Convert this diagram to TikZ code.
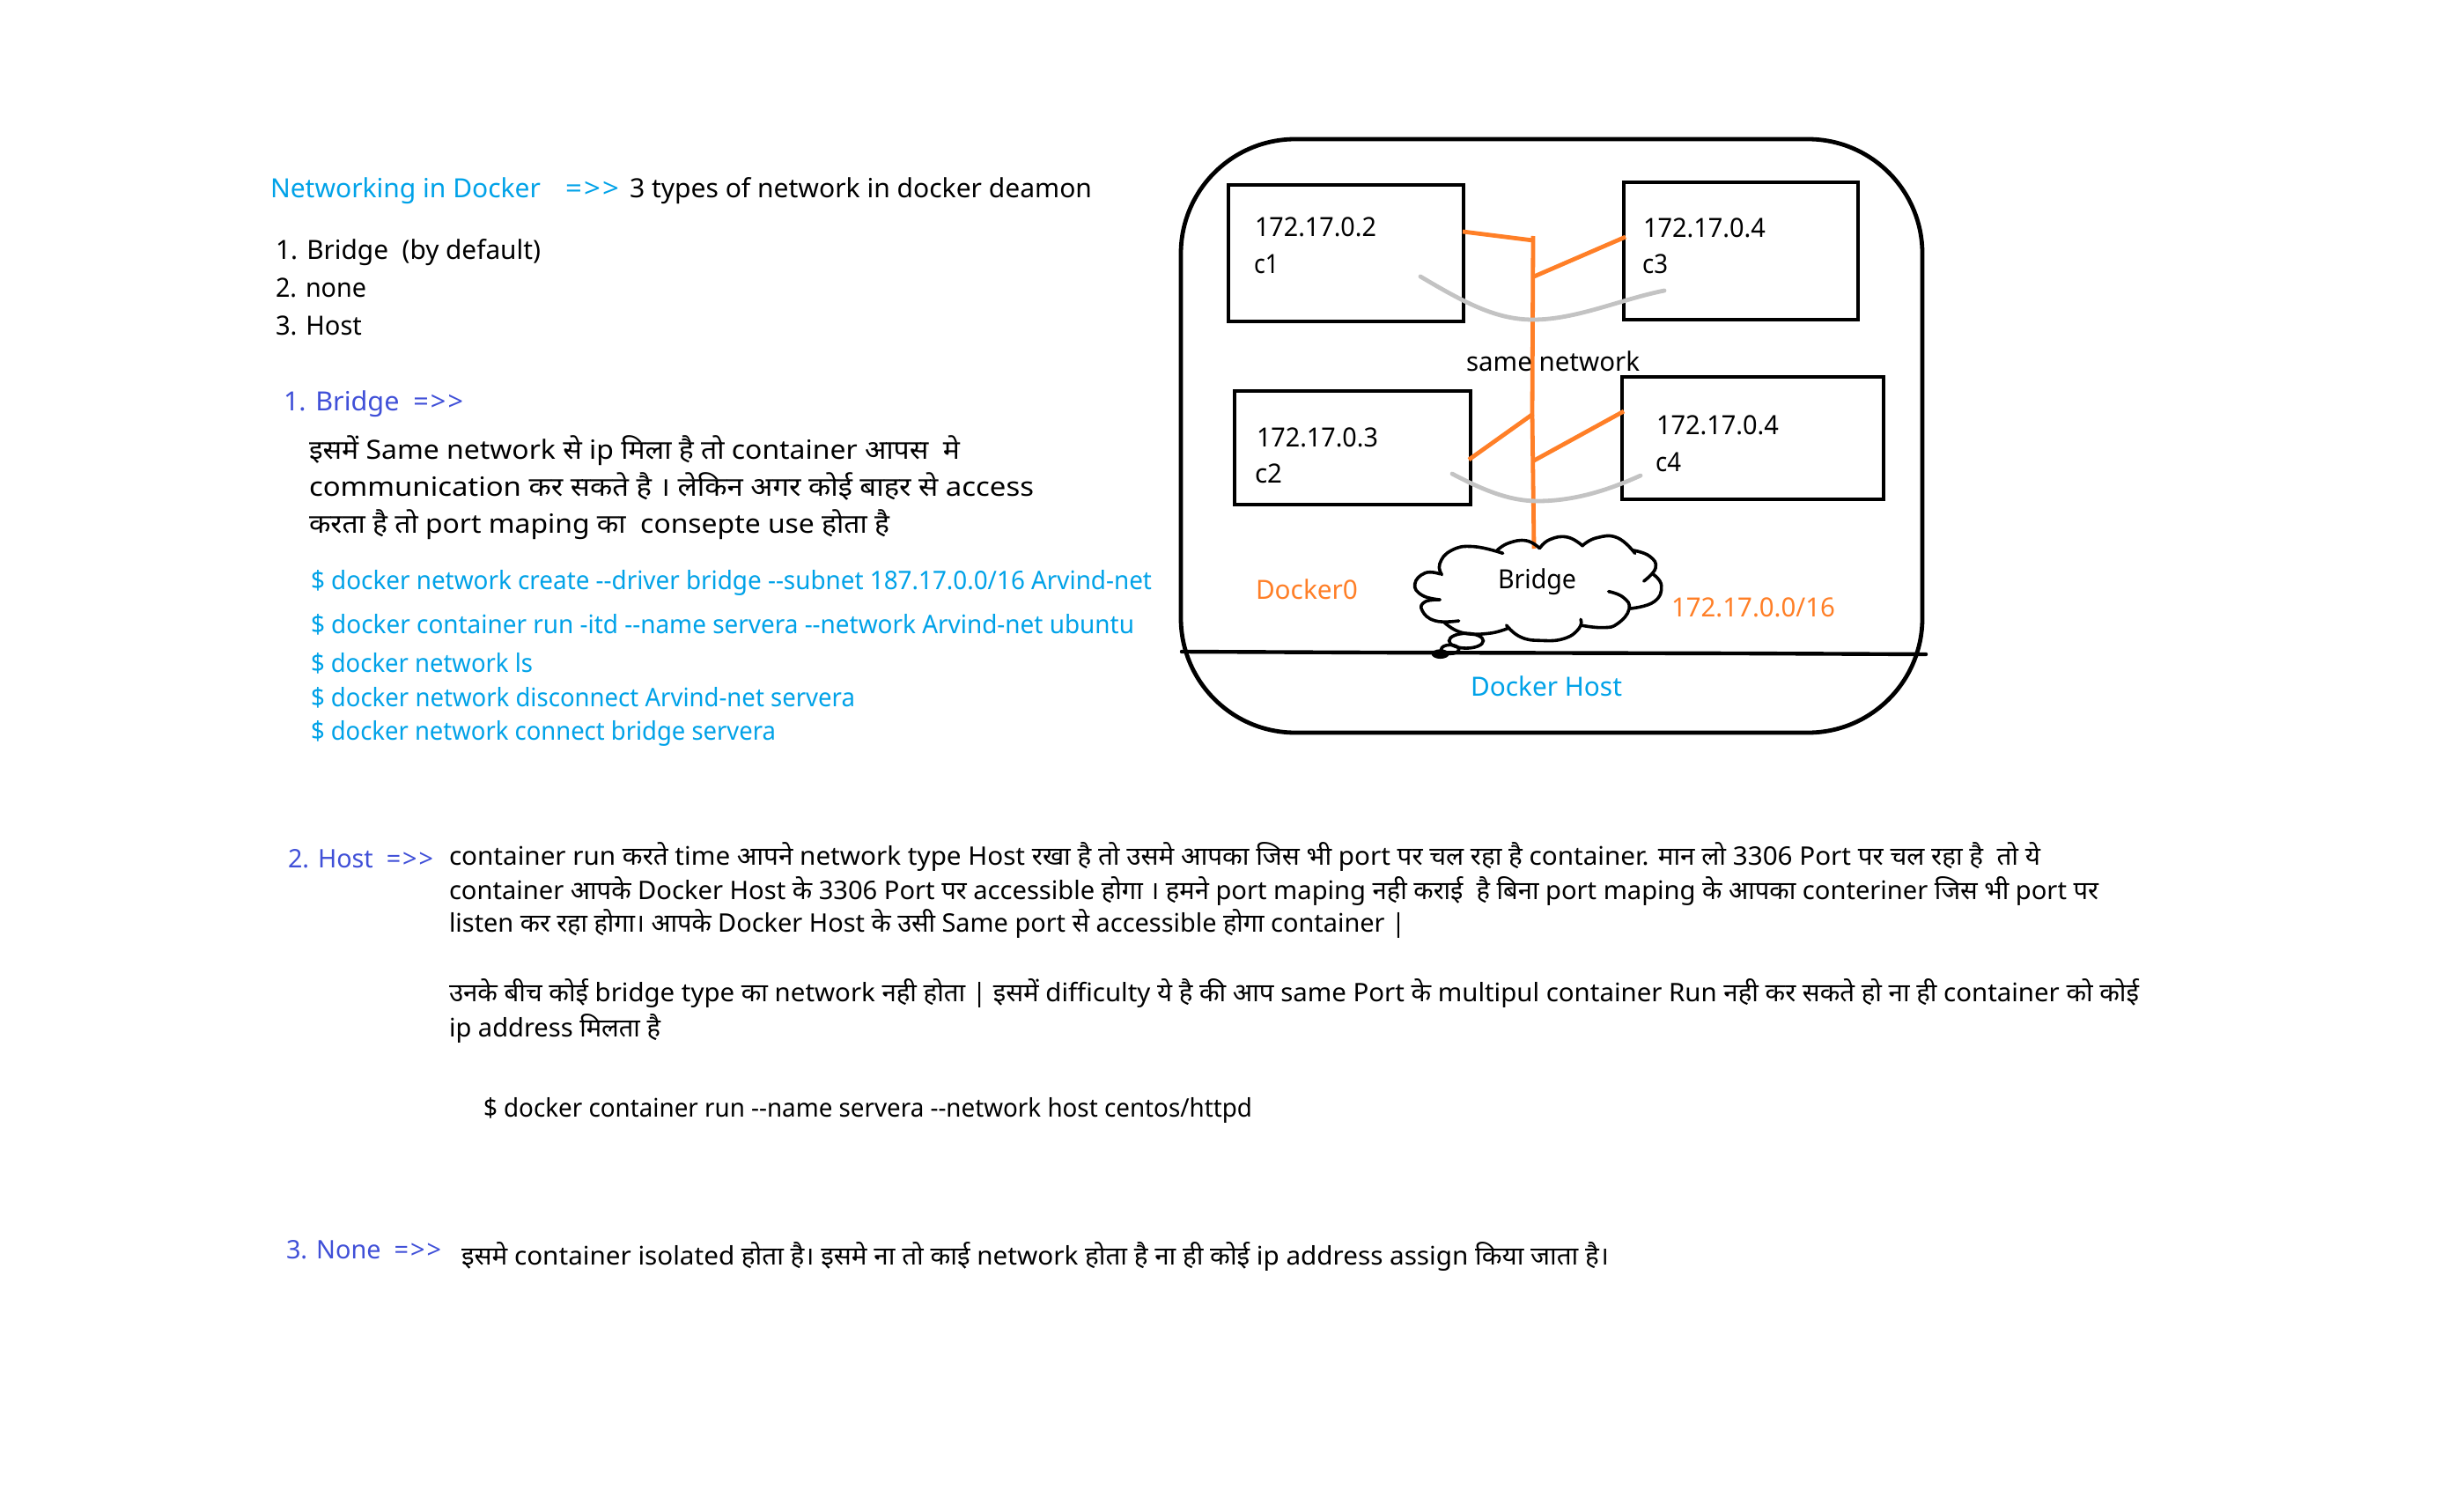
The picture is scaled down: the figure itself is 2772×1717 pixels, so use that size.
\documentclass[tikz,border=0pt]{standalone}
\usepackage{fontspec}
\usepackage{graphicx}
\newfontfamily\hfont[Script=Devanagari]{Noto Sans}
\definecolor{cy}{HTML}{00A2E8}
\definecolor{vi}{HTML}{4050D8}
\definecolor{og}{HTML}{FF7F27}
\definecolor{gy}{HTML}{C3C3C3}
\newdimen\pxu \pxu=0.5pt
\newcommand{\arr}{=\kern1pt>\kern1pt>}
\newcommand{\tl}[7][15]{\node[txt,text=#6] (#2) at (#3,#4) {\fontsize{#1}{#1}\hfont\resizebox{#5\pxu}{\height}{#7}};}
\newcommand{\bx}[5]{\pgfmathsetmacro{\cxx}{(#2+#4)/2}\pgfmathsetmacro{\cyy}{(#3+#5)/2}\pgfmathsetmacro{\wdd}{(#4-#2)/2}\pgfmathsetmacro{\htt}{(#5-#3)/2}
\node[hbox,minimum width=\wdd pt,minimum height=\htt pt] (#1) at (\cxx,\cyy) {};}
\tikzset{
 txt/.style={anchor=base west,inner sep=0pt,outer sep=0pt},
 hbox/.style={draw=black,line width=2.4pt,inner sep=0pt,outer sep=0pt,rectangle},
 oline/.style={draw=og,line width=2.4pt},
 gline/.style={draw=gy,line width=2.4pt,line cap=round},
 kline/.style={draw=black,line width=2.2pt,line cap=round},
 cl/.style={draw=black,line width=1.8pt,line cap=round}
}
\begin{document}
\begin{tikzpicture}[x=0.5pt,y=-0.5pt]
\useasboundingbox[fill=white] (0,0) rectangle (2772,1717);
% left text
\tl{t1}{307}{225}{307}{cy}{Networking in Docker}
\tl{t2}{642}{225}{61}{cy}{\arr}
\tl{t3}{715}{225}{525}{black}{3 types of network in docker deamon}
\tl{l1}{313}{295}{301}{black}{1. Bridge\ \ (by default)}
\tl{l2}{313}{337}{103}{black}{2. none}
\tl{l3}{313}{380}{98}{black}{3. Host}
\tl{b0}{322}{466}{204}{vi}{1. Bridge\ \ \arr}
\tl{b1}{351}{521}{739}{black}{इसमें Same network से ip मिला है तो container आपस\ \ मे}
\tl{b2}{351}{563}{823}{black}{communication कर सकते है । लेकिन अगर कोई बाहर से access}
\tl{b3}{351}{605.5}{659}{black}{करता है तो port maping का\ \ consepte use होता है}
\tl[14.5]{c1t}{353}{669}{955}{cy}{\$ docker network create --driver bridge --subnet 187.17.0.0/16 Arvind-net}
\tl[14.5]{c2t}{353}{719}{935}{cy}{\$ docker container run -itd --name servera --network Arvind-net ubuntu}
\tl[14.5]{c3t}{353}{763}{252}{cy}{\$ docker network ls}
\tl[14.5]{c4t}{353}{802}{618}{cy}{\$ docker network disconnect Arvind-net servera}
\tl[14.5]{c5t}{353}{840}{528}{cy}{\$ docker network connect bridge servera}
% bottom text
\tl[14.5]{h0}{327}{985}{165}{vi}{2. Host\ \ \arr}
\tl[14.5]{h1}{510}{982}{1807}{black}{container run करते time आपने network type Host रखा है तो उसमे आपका जिस भी port पर चल रहा है container. मान लो 3306 Port पर चल रहा है\ \ तो ये}
\tl[14.5]{h2}{510}{1021}{1873}{black}{container आपके Docker Host के 3306 Port पर accessible होगा । हमने port maping नही कराई\ \ है बिना port maping के आपका conteriner जिस भी port पर}
\tl[14.5]{h3}{510}{1058.5}{1086}{black}{listen कर रहा होगा। आपके Docker Host के उसी Same port से accessible होगा container |}
\tl[14.5]{h4}{510}{1137}{1919}{black}{उनके बीच कोई bridge type का network नही होता | इसमें difficulty ये है की आप same Port के multipul container Run नही कर सकते हो ना ही container को कोई}
\tl[14.5]{h5}{510}{1177}{240}{black}{ip address मिलता है}
\tl[14.5]{h6}{549}{1268}{873}{black}{\$ docker container run --name servera --network host centos/httpd}
\tl[14.5]{n0}{325}{1429}{176}{vi}{3. None\ \ \arr}
\tl[14.5]{n1}{524}{1436}{1303}{black}{इसमे container isolated होता है। इसमे ना तो काई network होता है ना ही कोई ip address assign किया जाता है।}
% diagram
\bx{c1}{1395}{210}{1662}{365}
\bx{c3}{1844}{207}{2110}{363}
\bx{c2}{1402}{444}{1670}{573}
\bx{c4}{1842}{428}{2139}{567}
\node[hbox,rounded corners=65pt,minimum width=421pt,minimum height=337pt] (host) at (1762,495) {};
\coordinate (lineL) at (1342,740);
\coordinate (lineA) at (1556,741);
\coordinate (lineB) at (1977,742);
\coordinate (lineR) at (2187,743);
\draw[kline] (lineL) -- (lineA) -- (lineB) -- (lineR);
% bus
\coordinate (busT) at (1741,268);
\coordinate (busM) at (1740,470);
\coordinate (busB) at (1742,623);
\coordinate (j1) at (1741,273);
\coordinate (j3) at (1742,314);
\coordinate (j2) at (1741,470);
\coordinate (j4) at (1742,523);
\coordinate (p1) at (1661,263);
\coordinate (p3) at (1846,269);
\coordinate (p2) at (1668,522);
\coordinate (p4) at (1844,467);
\draw[oline] (busT) -- (busM) -- (busB);
\draw[oline] (p1) -- (j1);
\draw[oline] (p3) -- (j3);
\draw[oline] (p2) -- (j2);
\draw[oline] (p4) -- (j4);
% grey
\coordinate (g1) at (1613,314);
\coordinate (g2) at (1741,363);
\coordinate (g3) at (1890,330);
\coordinate (g4) at (1649,538);
\coordinate (g5) at (1746,569);
\coordinate (g6) at (1863,540);
\draw[gline] (g1) .. controls (1665,345) and (1700,363) .. (g2) .. controls (1790,363) and (1840,340) .. (g3);
\draw[gline] (g4) .. controls (1685,557) and (1715,569) .. (g5) .. controls (1790,569) and (1830,555) .. (g6);
% cloud
\begin{scope}[shift={(1590,590)},x=0.16667pt,y=-0.16667pt]
\draw[cl] plot[smooth,tension=0.8] coordinates {(135,185)(85,182)(50,220)(75,258)(135,273)};
\draw[cl] plot[smooth,tension=0.8] coordinates {(142,188)(135,150)(175,105)(250,92)(350,115)};
\draw[cl] plot[smooth,tension=0.8] coordinates {(330,105)(370,80)(430,72)(475,98)};
\draw[cl] plot[smooth,tension=0.8] coordinates {(475,98)(510,68)(570,60)(622,90)};
\draw[cl] plot[smooth,tension=0.8] coordinates {(622,88)(670,62)(740,62)(800,115)};
\draw[cl] plot[smooth,tension=0.8] coordinates {(795,105)(850,125)(870,165)(830,210)};
\draw[cl] plot[smooth,tension=0.8] coordinates {(860,185)(890,225)(865,280)(785,303)};
\draw[cl] plot[smooth,tension=0.8] coordinates {(710,245)(760,265)(780,305)(740,355)(690,368)(615,360)};
\draw[cl] plot[smooth,tension=0.8] coordinates {(615,340)(610,370)(560,405)(480,412)(410,400)(362,360)};
\draw[cl] plot[smooth,tension=0.8] coordinates {(368,370)(300,388)(210,385)(150,350)};
\draw[cl] plot[smooth,tension=0.8] coordinates {(135,273)(85,280)(75,310)(120,345)(200,345)};
\draw[cl] (225,413) ellipse [x radius=9.7pt,y radius=4.2pt];
\draw[cl] (170,442) ellipse [x radius=5pt,y radius=2.5pt];
\fill[black] (137,458) ellipse [x radius=5pt,y radius=2.7pt];
\end{scope}
% diagram labels
\tl{ip1}{1425}{268.5}{138}{black}{172.17.0.2}
\tl{n1a}{1424}{311}{28}{black}{c1}
\tl{ip3}{1866}{269.5}{139}{black}{172.17.0.4}
\tl{n3a}{1865}{311}{29}{black}{c3}
\tl{ip2}{1427}{507}{138}{black}{172.17.0.3}
\tl{n2a}{1425}{548.5}{31}{black}{c2}
\tl{ip4}{1881}{493}{139}{black}{172.17.0.4}
\tl{n4a}{1880}{535}{29}{black}{c4}
\tl{same}{1665}{421}{197}{black}{same network}
\tl{dz}{1426}{680}{116}{og}{Docker0}
\tl{sub}{1898}{700.5}{186}{og}{172.17.0.0/16}
\tl{br}{1701}{668}{89}{black}{Bridge}
\tl{dh}{1670}{790}{172}{cy}{Docker Host}
\end{tikzpicture}
\end{document}
